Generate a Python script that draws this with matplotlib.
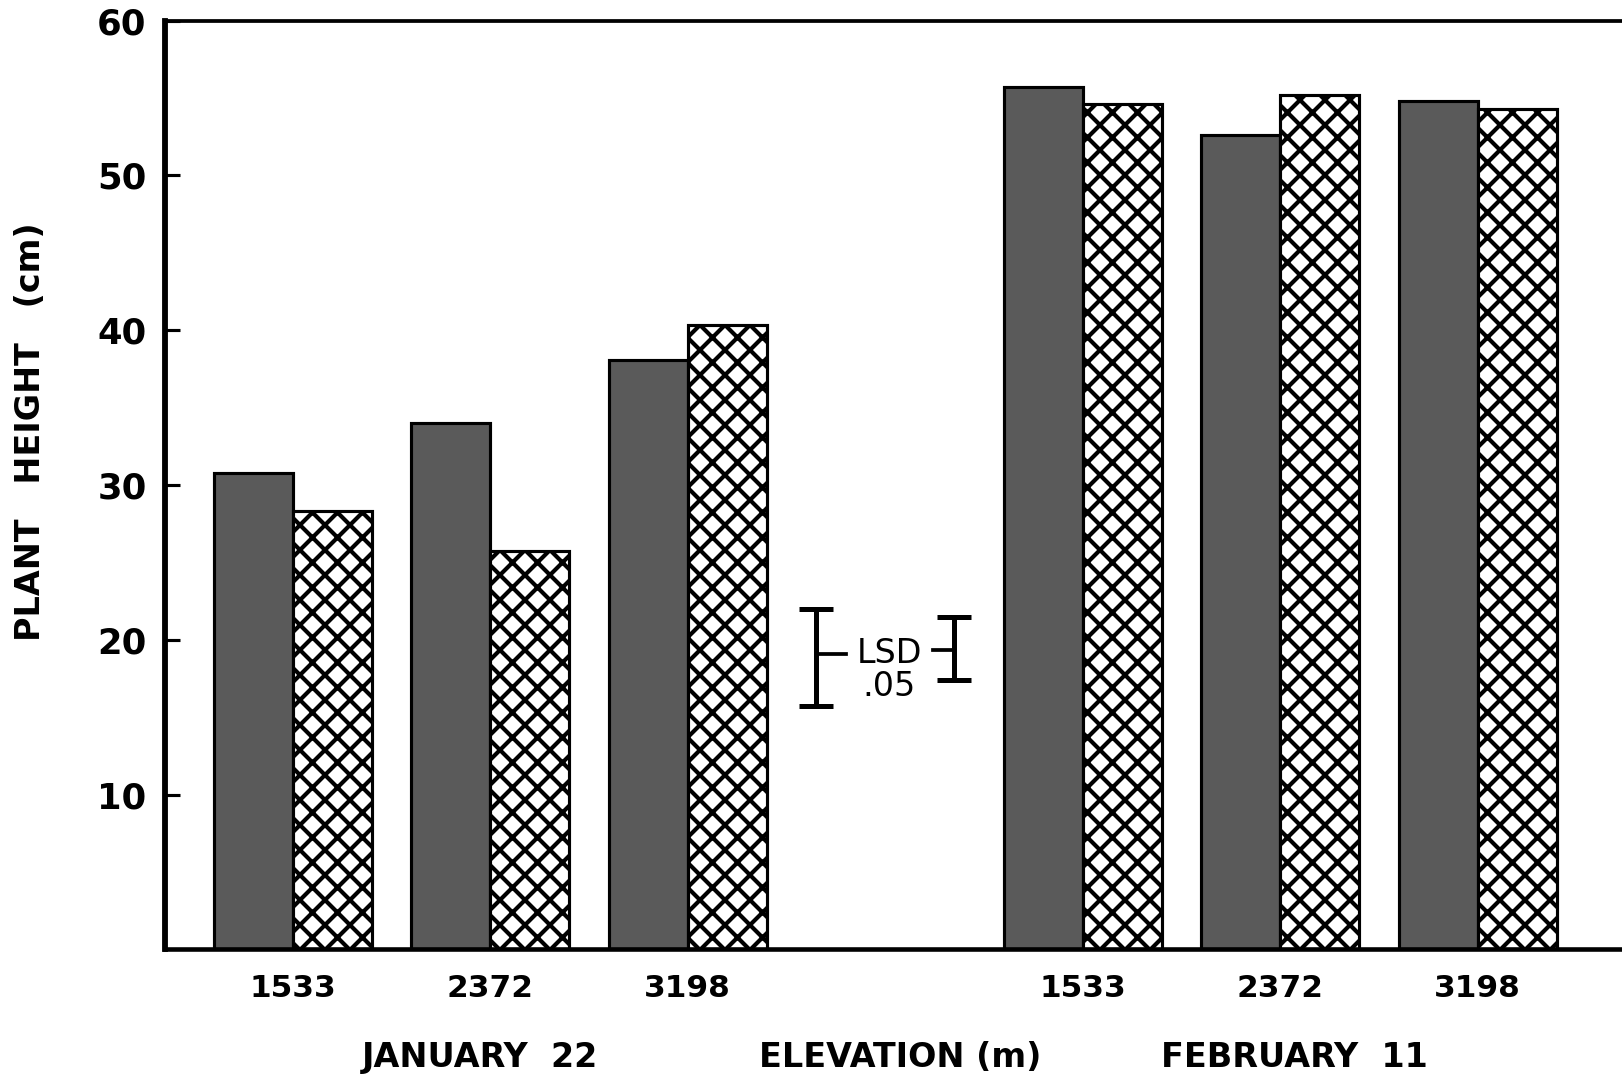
import matplotlib.pyplot as plt
import numpy as np

# elevations (m) at each sampling date
elevations = ['1533', '2372', '3198']
dates = ['JANUARY  22', 'FEBRUARY  11']
# plant height (cm): dark bars and cross-hatched bars
dark_jan = [30.8, 34.0, 38.1]
hatch_jan = [28.3, 25.7, 40.3]
dark_feb = [55.7, 52.6, 54.8]
hatch_feb = [54.6, 55.2, 54.3]
# LSD .05 brackets (centre, length) for Jan and Feb
lsd_center = [18.85, 19.45]
lsd_len = [6.3, 4.1]

plt.rcParams['hatch.linewidth'] = 2.0
plt.rcParams['font.family'] = 'DejaVu Sans'

fig = plt.figure(figsize=(1622 / 150, 1080 / 150), dpi=150)
ax = fig.add_axes([0.102, 0.121, 0.898, 0.860])

pos = np.array([0, 1, 2, 4, 5, 6])
dark = dark_jan + dark_feb
hatched = hatch_jan + hatch_feb
w = 0.40
ax.bar(pos - w / 2, dark, w, color='#5a5a5a', edgecolor='black', linewidth=1.5)
ax.bar(pos + w / 2, hatched, w, color='white', edgecolor='black', linewidth=1.5, hatch='xx')

# LSD brackets
ax.errorbar([2.65, 3.35], lsd_center, yerr=np.array(lsd_len) / 2, fmt='none',
            ecolor='black', elinewidth=2.4, capsize=8, capthick=2.4)
ax.plot([2.65, 2.80], [lsd_center[0] + 0.2, lsd_center[0] + 0.2], color='black', lw=1.8)
ax.plot([3.24, 3.35], [lsd_center[1] - 0.1, lsd_center[1] - 0.1], color='black', lw=1.8)
ax.text(3.02, 19.1, 'LSD', ha='center', va='center', fontsize=16)
ax.text(3.02, 17.0, '.05', ha='center', va='center', fontsize=16)

ax.set_xlim(-0.644, 6.73)
ax.set_ylim(0, 60)
ax.set_yticks([10, 20, 30, 40, 50, 60])
ax.set_xticks(pos)
ax.set_xticklabels(elevations * 2, fontsize=15, fontweight='bold')
ax.tick_params(axis='y', direction='in', length=7, width=1.5, labelsize=17, pad=9)
ax.tick_params(axis='x', length=0, pad=12)
for lab in ax.get_yticklabels():
    lab.set_fontweight('bold')

ax.spines['right'].set_visible(False)
ax.spines['left'].set_linewidth(2.8)
ax.spines['bottom'].set_linewidth(2.2)
ax.spines['top'].set_linewidth(1.8)

fig.text(0.296, 0.021, dates[0], ha='center', va='center', fontsize=16, fontweight='bold')
fig.text(0.555, 0.021, 'ELEVATION (m)', ha='center', va='center', fontsize=16, fontweight='bold')
fig.text(0.798, 0.021, dates[1], ha='center', va='center', fontsize=16, fontweight='bold')
fig.text(0.019, 0.60, 'PLANT   HEIGHT   (cm)', ha='center', va='center', rotation=90,
         fontsize=16, fontweight='bold')

fig.savefig('out.png', dpi=150)
